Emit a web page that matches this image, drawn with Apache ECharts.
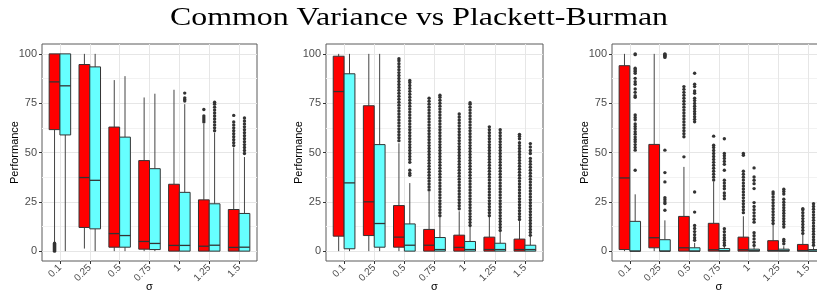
<!DOCTYPE html>
<html>
<head>
<meta charset="utf-8">
<script src="https://cdn.jsdelivr.net/npm/echarts@6/dist/echarts.min.js"></script>
<style>
html,body{margin:0;padding:0;background:#fff;}
#chart{width:817px;height:292px;}
</style>
</head>
<body>
<div id="chart"></div>
<script>
// ---------- data ----------
const titleText = 'Common Variance vs Plackett-Burman';
const sigmaLabels = ['0.1', '0.25', '0.5', '0.75', '1', '1.25', '1.5'];
const yTickLabels = [0, 25, 50, 75, 100];
const xAxisTitle = 'σ';
const yAxisTitle = 'Performance';
const seriesNames = ['Common Variance', 'Plackett-Burman'];

// each row: [lower whisker, Q1, median, Q3, upper whisker]
const redStats1 = [
  [4.5, 61.6, 85.8, 100, 100],
  [1.3, 12.0, 37.3, 94.6, 100],
  [0, 2.0, 8.9, 62.9, 86.7],
  [0, 1.0, 4.9, 45.9, 77.9],
  [0, 0, 2.9, 33.9, 81.8],
  [0, 0, 2.5, 26.0, 64.6],
  [0, 0, 1.9, 21.1, 52.5]
];
const cyanStats1 = [
  [0, 58.9, 83.8, 100, 100],
  [0, 11.3, 35.9, 93.4, 100],
  [0, 2.0, 7.9, 57.8, 88.7],
  [0, 0.8, 3.9, 41.8, 79.8],
  [0, 0, 2.9, 29.8, 74.5],
  [0, 0, 3.0, 24.0, 60.0],
  [0, 0, 2.0, 19.1, 47.7]
];
const redOut1 = [
  [0, 0.5, 1, 1.5, 2, 2.5, 3, 3.5, 4],
  [], [], [], [],
  [65.5, 66.5, 67.5, 68.5, 71.8],
  [53.5, 55, 56.5, 58, 59.5, 61, 62.5, 64, 65.5, 68.8]
];
const cyanOut1 = [
  [], [], [], [],
  [76.1, 76.9, 77.7, 80.1],
  [61, 62.5, 64, 65.5, 67, 68.5, 70, 71.5, 73, 74.5, 75.5],
  [49.5, 51, 52.5, 54, 55.5, 57, 58.5, 60, 61.5, 63, 64.5, 66, 67.5]
];

const redStats2 = [
  [0, 7.6, 80.9, 98.8, 100],
  [0, 7.9, 25.0, 73.7, 100],
  [0, 2.0, 7.1, 23.1, 54.7],
  [0, 0, 3.0, 11.0, 30.0],
  [0, 0, 1.9, 8.1, 20.2],
  [0, 0, 0.8, 7.1, 17.4],
  [0, 0, 0.8, 6.1, 15.2]
];
const cyanStats2 = [
  [0, 1.2, 34.6, 89.9, 100],
  [0, 2.0, 14.0, 54.0, 100],
  [0, 0, 3.0, 13.8, 34.5],
  [0, 0, 0.8, 6.9, 17.3],
  [0, 0, 0.8, 4.9, 12.2],
  [0, 0, 0.8, 4.0, 10.0],
  [0, 0, 0.8, 3.0, 7.5]
];
const redOut2 = [
  [], [],
  [56, 57.5, 59, 60.5, 62, 63.5, 65, 66.5, 68, 69.5, 71, 72.5, 74, 75.5, 77, 78.5, 80, 81.5, 83, 84.5, 86, 87.5, 89, 90.5, 92, 93.5, 95, 96.5, 97.5],
  [31, 32.5, 34, 35.5, 37, 38.5, 40, 41.5, 43, 44.5, 46, 47.5, 49, 50.5, 52, 53.5, 55, 56.5, 58, 59.5, 61, 62.5, 64, 65.5, 67, 68.5, 70, 71.5, 73, 74.5, 76, 77.5],
  [21.5, 23, 24.5, 26, 27.5, 29, 30.5, 32, 33.5, 35, 36.5, 38, 39.5, 41, 42.5, 44, 45.5, 47, 48.5, 50, 51.5, 53, 54.5, 56, 57.5, 59, 60.5, 62, 63.5, 65, 66.5, 68, 69.5],
  [18, 19.5, 21, 22.5, 24, 25.5, 27, 28.5, 30, 31.5, 33, 34.5, 36, 37.5, 39, 40.5, 42, 43.5, 45, 46.5, 48, 49.5, 51, 52.5, 54, 55.5, 57, 58.5, 60, 61.5, 63],
  [16, 17.5, 19, 20.5, 22, 23.5, 25, 26.5, 28, 29.5, 31, 32.5, 34, 35.5, 37, 38.5, 40, 41.5, 43, 44.5, 46, 47.5, 49, 50.5, 52, 53.5, 55, 57, 58.2, 59.2]
];
const cyanOut2 = [
  [], [],
  [38.5, 39.5, 41, 45, 46.5, 48, 49.5, 51, 52.5, 54, 55.5, 57, 58.5, 60, 61.5, 63, 64.5, 66, 67.5, 69, 70.5, 72, 73.5, 75, 76.5, 78, 79.5, 81, 82.5, 84, 85.5, 86.5],
  [18, 19.5, 21, 22.5, 24, 25.5, 27, 28.5, 30, 31.5, 33, 34.5, 36, 37.5, 39, 40.5, 42, 43.5, 45, 46.5, 48, 49.5, 51, 52.5, 54, 55.5, 57, 58.5, 60, 61.5, 63, 64.5, 66, 67.5, 69, 70.5, 72, 73.5, 75, 76.5, 78, 79],
  [13, 14.5, 16, 17.5, 19, 20.5, 22, 23.5, 25, 26.5, 28, 29.5, 31, 32.5, 34, 35.5, 37, 38.5, 40, 41.5, 43, 44.5, 46, 47.5, 49, 50.5, 52, 53.5, 55, 56.5, 58, 59.5, 61, 62.5, 64, 65.5, 67, 68.5, 70, 71.5, 73, 74.5, 75.2],
  [10.5, 12, 13.5, 15, 16.5, 18, 19.5, 21, 22.5, 24, 25.5, 27, 28.5, 30, 31.5, 33, 34.5, 36, 37.5, 39, 40.5, 42, 43.5, 45, 46.5, 48, 49.5, 51, 52.5, 54, 55.5, 57, 58.5, 60, 61.5],
  [8, 9.5, 11, 12.5, 14, 15.5, 17, 18.5, 20, 21.5, 23, 24.5, 26, 27.5, 29, 30.5, 32, 33.5, 35, 36.5, 38, 39.5, 41, 42.5, 44, 45.5, 47, 49.5, 51, 52.8, 54.5]
];

const redStats3 = [
  [0, 0.8, 37.1, 94.0, 100],
  [0, 1.7, 6.8, 54.1, 100],
  [0, 0, 1.7, 17.6, 42.7],
  [0, 0, 0.7, 14.1, 35.2],
  [0, 0, 0.7, 7.1, 17.7],
  [0, 0, 0.3, 5.3, 13.3],
  [0, 0, 0.3, 3.4, 8.5]
];
const cyanStats3 = [
  [0, 0, 0, 15.1, 28.8],
  [0, 0, 0, 5.8, 15.6],
  [0, 0, 0, 1.7, 4.2],
  [0, 0, 0.2, 1.3, 2.6],
  [0, 0, 0.2, 1.0, 2.5],
  [0, 0, 0.2, 1.0, 2.5],
  [0, 0, 0, 0.8, 2.0]
];
const redOut3 = [
  [], [],
  [47.8, 58, 59.5, 61, 62.5, 64, 65.5, 67, 68.5, 70, 71.5, 73, 74.5, 76, 77.5, 79, 80.5, 82, 83.4],
  [36, 37.5, 39, 40.5, 42, 43.5, 45, 46.5, 48, 49.5, 51, 52.5, 53.7, 58.3],
  [19.5, 21, 22.5, 24, 25.5, 27, 28.5, 30, 31.5, 33, 34.5, 36, 37.5, 39, 40.5, 48.6, 49.5],
  [14, 15.5, 17, 18.5, 20, 21.5, 23, 24.5, 26, 27.5, 29, 30],
  [9, 10.5, 12, 13.5, 15, 16.5, 18, 19.5, 21, 21.5]
];
const cyanOut3 = [
  [41.0, 51.2, 52.5, 54.0, 55.5, 56.6, 57.8, 59.3, 60.5, 62.0, 63.2, 64.5, 66.6, 67.8, 69.0, 78.0, 78.8, 80.5, 82.2, 84.6, 85.9, 87.6, 90.2, 91.2, 92.0, 92.7, 99.6, 100],
  [20.7, 24.1, 24.9, 26.1, 27.1, 35.1, 39.8, 51.2, 98.2, 98.8, 99.3, 99.7, 100],
  [5.5, 6.8, 8.3, 9.9, 11.5, 13.0, 19.8, 30.0, 65.6, 66.8, 68.1, 69.5, 70.8, 72.2, 73.5, 74.9, 76.3, 77.5, 80.0, 81.2, 83.4, 84.6, 90.2],
  [3.0, 4.2, 5.5, 6.8, 8.2, 9.8, 11.4, 26.6, 28.1, 29.5, 31.6, 33.0, 34.5, 35.9, 41.0, 44.0, 45.5, 47.0, 48.3, 49.5, 57.0],
  [2.9, 4.5, 6.2, 7.8, 9.3, 14.7, 16.2, 17.8, 19.4, 21.0, 22.6, 24.6, 31.7, 34.2, 35.9, 37.6, 42.2],
  [3.7, 5.0, 5.9, 12.2, 13.6, 15.0, 16.4, 17.8, 19.2, 20.6, 22.0, 23.4, 24.8, 26.3, 29.0, 30.2, 31.4],
  [3, 4.4, 5.8, 7.2, 8.6, 10, 11.4, 12.8, 14.2, 15.6, 17, 18.4, 19.8, 21.2, 22.6, 24]
];

// ---------- layout / style ----------
const RED = '#FF0000';
const CYAN = '#66FFFF';
const LINE = '#333333';
const DODGE = 0.18;    // category units
const HALF_W = 0.18;   // category units
const SANS = '"Liberation Sans", Arial, sans-serif';
const xTickValues = sigmaLabels.map(function (s, j) { return j + 1; });

const panels = [
  { left: 42, right: 560, red: redStats1, cyan: cyanStats1, redOut: redOut1, cyanOut: cyanOut1 },
  { left: 326, right: 274, red: redStats2, cyan: cyanStats2, redOut: redOut2, cyanOut: cyanOut2 },
  { left: 612, right: -9, red: redStats3, cyan: cyanStats3, redOut: redOut3, cyanOut: cyanOut3 }
];

function boxRenderer(offset, fill) {
  return function (params, api) {
    const k = api.value(0) + offset;
    const lo = api.coord([k, api.value(1)]);
    const q1 = api.coord([k, api.value(2)]);
    const md = api.coord([k, api.value(3)]);
    const q3 = api.coord([k, api.value(4)]);
    const hi = api.coord([k, api.value(5)]);
    const xl = api.coord([k - HALF_W, 0])[0];
    const xr = api.coord([k + HALF_W, 0])[0];
    return {
      type: 'group',
      children: [
        { type: 'line', shape: { x1: lo[0], y1: lo[1], x2: q1[0], y2: q1[1] }, style: { stroke: '#444', lineWidth: 1 } },
        { type: 'line', shape: { x1: q3[0], y1: q3[1], x2: hi[0], y2: hi[1] }, style: { stroke: '#444', lineWidth: 1 } },
        { type: 'rect', shape: { x: xl, y: q3[1], width: xr - xl, height: Math.max(q1[1] - q3[1], 0.5) }, style: { fill: fill, stroke: LINE, lineWidth: 1 } },
        { type: 'line', shape: { x1: xl, y1: md[1], x2: xr, y2: md[1] }, style: { stroke: LINE, lineWidth: 1.3 } }
      ]
    };
  };
}

const grids = [], xAxes = [], yAxes = [], series = [];
panels.forEach(function (p, i) {
  grids.push({ left: p.left, right: p.right, top: 44, bottom: 31, show: true,
    backgroundColor: '#ffffff', borderColor: '#5a5a5a', borderWidth: 1,
    containLabel: false, outerBoundsMode: 'none' });
  xAxes.push({
    type: 'value', gridIndex: i, min: 0.4, max: 7.6, splitNumber: 7, minInterval: 1, maxInterval: 1,
    axisLine: { show: false, onZero: false },
    axisTick: { show: true, length: 3, lineStyle: { color: '#333' }, customValues: xTickValues },
    axisLabel: {
      rotate: 45, margin: 5, fontSize: 10, fontFamily: SANS, color: '#4d4d4d',
      formatter: function (v) {
        const r = Math.round(v);
        return Math.abs(v - r) < 1e-6 && r >= 1 && r <= sigmaLabels.length ? sigmaLabels[r - 1] : '';
      }
    },
    splitLine: { show: true, showMinLine: true, showMaxLine: true, lineStyle: { color: '#e6e6e6', width: 1 } },
    name: xAxisTitle, nameLocation: 'middle', nameGap: 20, nameMoveOverlap: false,
    nameTextStyle: { fontSize: 11, fontFamily: SANS, color: '#000' }
  });
  yAxes.push({
    type: 'value', gridIndex: i, min: -5, max: 105, splitNumber: 4, minInterval: 25, maxInterval: 25,
    axisLine: { show: false, onZero: false },
    axisTick: { show: true, length: 3, lineStyle: { color: '#333' }, customValues: yTickLabels },
    axisLabel: {
      margin: 5, fontSize: 11, fontFamily: SANS, color: '#4d4d4d',
      formatter: function (v) {
        const r = Math.round(v);
        return Math.abs(v - r) < 1e-6 && yTickLabels.indexOf(r) >= 0 ? String(r) : '';
      }
    },
    splitLine: { show: true, showMinLine: true, showMaxLine: true, lineStyle: { color: '#e6e6e6', width: 1 } },
    minorTick: { show: false, splitNumber: 2 },
    minorSplitLine: { show: true, lineStyle: { color: '#f2f2f2', width: 1 } },
    name: yAxisTitle, nameLocation: 'middle', nameGap: 22, nameRotate: 90, nameMoveOverlap: false,
    nameTextStyle: { fontSize: 11, fontFamily: SANS, color: '#000' }
  });
  [['red', -DODGE, RED, 0], ['cyan', DODGE, CYAN, 1]].forEach(function (g) {
    const stats = p[g[0]];
    const outs = p[g[0] + 'Out'];
    series.push({
      type: 'custom', name: seriesNames[g[3]], xAxisIndex: i, yAxisIndex: i,
      renderItem: boxRenderer(g[1], g[2]),
      encode: { x: 0, y: [1, 2, 3, 4, 5] },
      data: stats.map(function (s, j) { return [j + 1].concat(s); }),
      z: 2
    });
    const pts = [];
    outs.forEach(function (arr, j) { arr.forEach(function (v) { pts.push([j + 1 + g[1], v]); }); });
    series.push({
      type: 'scatter', name: seriesNames[g[3]], xAxisIndex: i, yAxisIndex: i,
      data: pts, symbol: 'circle', symbolSize: 3.4,
      itemStyle: { color: '#333333', opacity: 1 }, silent: true, z: 3
    });
  });
});

// title text (reference title is horizontally wide)
const titleFont = 25, titleFamily = '"Liberation Serif", "Times New Roman", serif';
const ctx = document.createElement('canvas').getContext('2d');
ctx.font = titleFont + 'px ' + titleFamily;
const titleW = ctx.measureText(titleText).width;
const titleScale = 498 / titleW;

const chart = echarts.init(document.getElementById('chart'), null, { renderer: 'canvas' });
chart.setOption({
  animation: false,
  backgroundColor: '#ffffff',
  grid: grids,
  xAxis: xAxes,
  yAxis: yAxes,
  series: series,
  graphic: [{
    type: 'text', x: 419, y: 18, scaleX: titleScale,
    style: { text: titleText, fontSize: titleFont, fontFamily: titleFamily, fill: '#000',
      align: 'center', verticalAlign: 'middle' }
  }]
});
</script>
</body>
</html>
